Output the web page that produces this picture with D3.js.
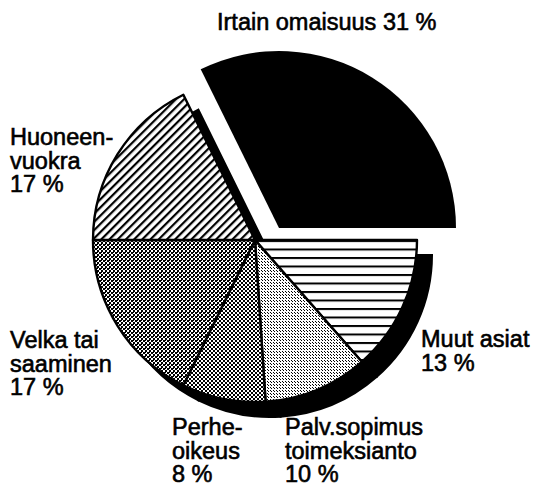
<!DOCTYPE html>
<meta charset="utf-8">
<script src="https://d3js.org/d3.v7.min.js"></script>
<style>
  body { margin: 0; background: #fff; }
  text { font-family: "Liberation Sans", Arial, Helvetica, sans-serif; font-size: 23.5px; fill: #000; stroke: #000; stroke-width: 0.6px; }
</style>
<div id="my_dataviz"></div>
<script>
// data, clockwise from 3 o'clock
var categories = ["Muut asiat", "Palv.sopimus toimeksianto", "Perheoikeus",
                  "Velka tai saaminen", "Huoneenvuokra", "Irtain omaisuus"];
var shares = [13, 10, 8, 17, 17, 31];
var labelLines = [["Muut asiat"], ["Palv.sopimus", "toimeksianto"], ["Perhe-", "oikeus"],
                  ["Velka tai", "saaminen"], ["Huoneen-", "vuokra"], ["Irtain omaisuus"]];
var exploded = "Irtain omaisuus";

// layout
var width = 535, height = 486;
var cx = 255, cy = 240, radius = 162;
var shadowOffset = [15, 15];
var explodeOffset = [24, -12], explodeRadius = 177;
var lineHeight = 23.5;
// left x, first baseline of each label
var labelPos = [[421, 347], [285, 435], [172, 435], [10, 348], [10, 145], [217, 30]];
var fills = ["url(#hlines)", "url(#dots)", "url(#check)", "url(#check2)", "url(#diag)", "#000"];

var svg = d3.select("#my_dataviz")
  .append("svg")
    .attr("width", width)
    .attr("height", height);

// fill patterns
var defs = svg.append("defs");

function tile(id, w, h, rects, transform) {
  var p = defs.append("pattern").attr("id", id).attr("patternUnits", "userSpaceOnUse")
    .attr("width", w).attr("height", h);
  if (transform) p.attr("patternTransform", transform);
  p.append("rect").attr("width", w).attr("height", h).attr("fill", "#fff");
  rects.forEach(function(r) {
    p.append("rect").attr("x", r[0]).attr("y", r[1]).attr("width", r[2]).attr("height", r[3]).attr("fill", "#000");
  });
}

tile("hlines", 8, 8.5, [[0, 0, 8, 2]]);
tile("dots", 3, 3, [[0, 0, 1, 1], [1, 1, 1, 1]]);
tile("check", 4, 4, [[0, 0, 2, 2], [2, 2, 2, 2]]);
tile("check2", 4, 4, [[0, 0, 2, 2], [2, 2, 2, 2], [2, 0, 1, 1]]);
tile("diag", 5.8, 10, [[0, 0, 2.2, 10]], "rotate(45)");

// pie layout, starting at 3 o'clock going clockwise
var pie = d3.pie()
  .sort(null)
  .value(function(d) { return d.value; })
  .startAngle(Math.PI / 2)
  .endAngle(Math.PI / 2 + 2 * Math.PI);

var data = categories.map(function(c, i) { return { key: c, value: shares[i], fill: fills[i] }; });
var data_ready = pie(data);

var arc = d3.arc().innerRadius(0).outerRadius(radius);
var bigArc = d3.arc().innerRadius(0).outerRadius(explodeRadius);

var inPie = data_ready.filter(function(d) { return d.data.key != exploded; });
var out = data_ready.filter(function(d) { return d.data.key == exploded; });

// drop shadow behind the pie
svg.append("g")
    .attr("transform", "translate(" + (cx + shadowOffset[0]) + "," + (cy + shadowOffset[1]) + ")")
  .selectAll("path")
  .data(inPie)
  .enter().append("path")
    .attr("d", arc)
    .attr("fill", "#000")
    .attr("stroke", "#000")
    .attr("stroke-width", 2);

// slices
svg.append("g")
    .attr("transform", "translate(" + cx + "," + cy + ")")
  .selectAll("path")
  .data(inPie)
  .enter().append("path")
    .attr("d", arc)
    .attr("fill", function(d) { return d.data.fill; })
    .attr("stroke", "#000")
    .attr("stroke-width", 2.4)
    .attr("stroke-linejoin", "round");

// exploded slice
svg.append("g")
    .attr("transform", "translate(" + (cx + explodeOffset[0]) + "," + (cy + explodeOffset[1]) + ")")
  .selectAll("path")
  .data(out)
  .enter().append("path")
    .attr("d", bigArc)
    .attr("fill", function(d) { return d.data.fill; });

// labels
var labels = svg.append("g");
data_ready.forEach(function(d, i) {
  var lines = labelLines[i].slice();
  var pct = d.data.value + " %";
  if (d.data.key == exploded) lines[lines.length - 1] += " " + pct;
  else lines.push(pct);
  var t = labels.append("text")
    .attr("x", labelPos[i][0])
    .attr("y", labelPos[i][1]);
  lines.forEach(function(l, j) {
    t.append("tspan")
      .attr("x", labelPos[i][0])
      .attr("dy", j == 0 ? 0 : lineHeight)
      .text(l);
  });
});
</script>
